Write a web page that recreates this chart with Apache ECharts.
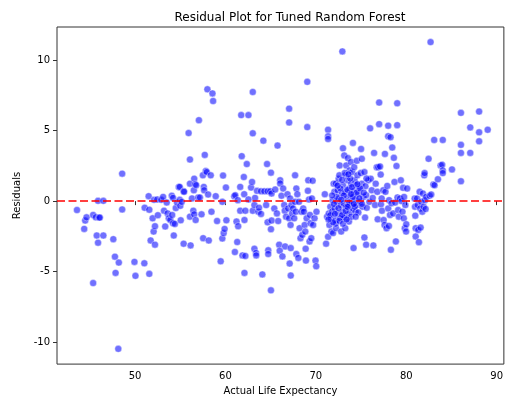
<!DOCTYPE html>
<html><head><meta charset="utf-8">
<script src="https://cdn.jsdelivr.net/npm/echarts@6/dist/echarts.min.js"></script>
<style>html,body{margin:0;padding:0;background:#fff}#c{width:506px;height:401px}</style>
</head><body><div id="c"></div>
<script>
const band40s=[[43.57,-0.63],[44.37,-1.97],[44.48,-1.38],[44.63,-1.15],[45.36,-0.98],[45.36,-5.81],[45.65,-1.15],[45.76,-2.44],[45.9,-2.95],[45.9,0.02],[46.0,-1.17],[46.1,-1.17],[46.49,0.02],[46.49,-2.44],[47.59,-2.7],[47.77,-3.94],[47.84,-5.09],[48.2,-4.36],[48.14,-10.48],[48.57,1.95],[48.57,-0.59],[49.93,-4.31]];
const band50s=[[50.04,-5.3],[51.02,-4.41],[51.06,-0.47],[51.5,0.35],[51.57,-0.61],[51.57,-5.16],[51.72,-2.79],[51.94,-1.22],[52.05,-2.16],[52.1,0.09],[52.2,-1.78],[52.2,-3.09],[52.45,0.12],[52.52,-1.0],[52.9,0.09],[53.1,0.3],[53.2,-0.68],[53.33,-1.8],[53.5,-0.1],[53.6,-0.87],[53.73,-1.22],[53.9,-1.34],[54.06,0.38],[54.1,-0.98],[54.2,-1.57],[54.2,0.23],[54.28,-2.44],[54.4,-1.62],[54.5,-0.49],[54.64,-0.1],[54.83,1.01],[54.94,1.01],[54.94,0.09],[55.0,-0.33],[55.05,-1.36],[55.16,-0.05],[55.37,0.7],[55.42,0.66],[55.37,-3.02],[55.92,4.83],[56.07,2.95],[56.07,1.24],[56.07,-1.1],[56.14,-3.14],[56.29,0.19],[56.44,-0.68],[56.5,0.77],[56.54,1.59],[56.54,-0.94],[56.65,1.2],[56.7,-1.34],[56.76,1.13],[56.98,0.26],[57.06,5.74],[57.17,0.26],[57.35,-0.94],[57.5,1.83],[57.53,-2.63],[57.6,1.01],[57.64,0.77],[57.71,3.28],[57.82,2.13],[57.93,2.06],[58.0,7.93],[58.08,0.47],[58.15,-2.79],[58.37,1.83],[58.45,-0.75],[58.56,7.64],[58.63,7.1],[58.92,0.35],[59.07,-1.41],[59.47,-4.27],[59.65,-0.05],[59.65,-2.65],[59.73,1.81],[59.8,-2.27],[59.9,-1.97]];
const band60s=[[60.05,0.96],[60.1,-1.36],[60.97,0.35],[61.04,-3.61],[61.08,0.42],[61.22,-1.45],[61.3,-2.9],[61.37,0.07],[61.4,-1.78],[61.63,1.01],[61.63,-0.68],[61.74,6.1],[61.8,3.19],[61.88,-3.85],[62.03,1.71],[62.07,0.49],[62.1,-1.34],[62.1,-5.09],[62.2,-0.68],[62.2,-3.89],[62.36,2.63],[62.54,6.1],[62.54,0.12],[62.83,0.96],[62.94,1.36],[63.02,7.74],[63.02,4.81],[63.02,-0.68],[63.2,-0.28],[63.2,-3.38],[63.27,0.23],[63.38,-3.68],[63.4,-3.85],[63.49,0.73],[63.64,-0.75],[63.71,-0.47],[63.93,0.7],[63.93,-0.91],[64.08,-5.2],[64.19,4.29],[64.3,0.7],[64.5,-0.28],[64.6,2.63],[64.66,-1.5],[64.66,0.7],[64.73,-3.49],[64.73,-3.75],[64.95,0.7],[65.03,2.02],[65.03,-1.99],[65.1,-1.38],[65.1,0.54],[65.03,-6.33],[65.4,-0.52],[65.5,0.82],[65.69,-0.87],[65.76,3.94],[65.83,-1.41],[65.94,-3.09],[66.0,-3.52],[66.05,1.48],[66.05,1.25],[66.2,0.38],[66.3,-3.92],[66.38,0.89],[66.5,-0.28],[66.56,-0.68],[66.6,-3.21],[66.7,-1.1],[66.86,0.49],[66.93,-0.52],[67.04,6.56],[67.04,5.58],[67.04,-1.22],[67.1,-4.43],[67.15,0.19],[67.2,-1.69],[67.22,-3.33],[67.22,-5.28],[67.3,-0.28],[67.37,-0.87],[67.48,-0.52],[67.6,-1.22],[67.7,1.83],[67.7,-0.05],[67.77,-0.75],[67.84,-3.75],[67.84,0.89],[67.95,0.49],[68.06,-4.03],[68.13,-0.05],[68.2,-1.92],[68.3,-2.63],[68.4,-0.75],[68.5,-2.39],[68.6,-0.52],[68.68,-0.75],[68.76,-1.69],[68.83,-2.16],[68.87,-3.38],[68.9,-4.22],[68.98,-1.22],[69.05,8.46],[69.05,5.25],[69.12,0.73],[69.16,1.48],[69.24,0.12],[69.3,-2.86],[69.34,-0.98],[69.42,-1.57],[69.49,-2.63],[69.56,0.19],[69.64,1.45],[69.7,-1.69],[69.85,-1.22],[69.96,-4.22]];
const band70s=[[70.04,-4.62],[70.07,-0.75],[70.99,0.49],[71.13,-3.02],[71.24,-1.1],[71.35,5.06],[71.35,4.6],[71.35,4.41],[71.35,-2.53],[71.43,-0.87],[71.5,-1.69],[71.6,-0.4],[71.68,-1.27],[71.72,-2.16],[71.79,-0.75],[71.86,0.07],[71.9,-2.27],[71.97,1.24],[72.05,0.66],[72.08,-0.52],[72.16,-1.34],[72.2,1.24],[72.23,-1.92],[72.34,-0.05],[72.41,0.77],[72.41,-0.87],[72.52,1.59],[72.56,0.19],[72.6,1.83],[72.63,2.53],[72.7,-1.22],[72.78,-0.28],[72.8,-2.16],[72.89,0.54],[72.93,10.62],[72.96,-0.75],[73.0,3.75],[73.0,1.13],[73.07,-0.16],[73.07,-1.22],[73.14,3.24],[73.18,0.66],[73.25,-1.92],[73.29,1.83],[73.33,-0.4],[73.36,2.53],[73.44,0.19],[73.44,-0.98],[73.51,1.48],[73.55,3.05],[73.62,-0.28],[73.66,-1.45],[73.7,0.89],[73.73,2.18],[73.8,-0.75],[73.8,0.42],[73.88,2.77],[73.91,1.24],[73.99,-0.05],[74.02,2.06],[74.1,4.13],[74.1,-0.52],[74.17,-3.33],[74.17,0.7],[74.24,2.41],[74.28,1.48],[74.35,0.19],[74.39,-0.75],[74.46,1.13],[74.53,2.86],[74.53,-0.28],[74.6,1.83],[74.72,0.54],[74.8,0.89],[74.9,-0.05],[74.97,1.99],[75.0,3.7],[75.08,3.0],[75.08,1.24],[75.15,-0.4],[75.26,0.3],[75.37,2.06],[75.37,-2.58],[75.44,-1.17],[75.48,1.06],[75.56,-3.09],[75.56,0.42],[75.63,-0.47],[75.8,1.48],[75.92,-0.05],[76.0,5.16],[76.07,1.59],[76.18,0.77],[76.29,0.23],[76.36,-3.14],[76.44,3.42],[76.55,-0.28],[76.62,1.24],[76.73,2.41],[76.8,0.66],[76.84,-1.29],[76.9,2.41],[77.0,6.99],[77.0,5.46],[77.1,2.46],[77.17,1.88],[77.2,-0.23],[77.28,0.19],[77.31,-0.68],[77.46,0.77],[77.5,-1.34],[77.6,-1.69],[77.64,3.35],[77.7,0.66],[77.82,-1.92],[77.9,1.08],[78.0,5.35],[78.0,4.6],[78.0,-0.52],[78.08,-1.76],[78.1,0.07],[78.2,-0.98],[78.26,4.53],[78.3,-3.45],[78.37,-0.16],[78.45,3.8],[78.55,-0.87],[78.63,3.07],[78.7,1.36],[78.77,-0.1],[78.85,-2.86],[78.92,2.49],[79.0,6.94],[79.0,5.39],[79.03,0.26],[79.1,-0.63],[79.18,-1.1],[79.3,0.19],[79.4,1.48],[79.47,0.0],[79.58,-0.75],[79.65,0.94],[79.73,-1.22],[79.76,0.3],[79.84,-1.92],[79.9,-0.28],[79.98,-2.16]];
const cluster70s=[[72.0,-0.2],[72.3,0.3],[72.5,-0.5],[72.7,0.9],[72.9,-1.0],[73.1,0.4],[73.3,-0.7],[73.5,0.8],[73.7,-0.1],[73.9,-1.1],[74.1,0.3],[74.3,-0.4],[74.5,0.6],[74.7,-0.8],[74.9,0.9],[75.1,-0.2],[72.2,-1.6],[72.6,-1.4],[73.0,-1.6],[73.4,-1.3],[73.8,1.6],[74.0,1.0],[74.4,-1.1],[71.8,0.4],[71.6,-1.0],[72.4,1.1],[72.9,1.5],[73.2,2.0],[73.6,1.9],[74.6,1.2],[75.3,0.6],[75.6,1.6],[74.2,-0.2],[73.5,-0.4],[72.8,0.1],[71.9,-1.5],[71.4,-1.3],[72.1,-0.9],[73.9,0.5],[74.8,0.2]];
const band80s=[[80.0,-1.64],[80.1,0.89],[80.93,0.19],[80.97,-0.4],[81.0,-1.03],[81.04,-1.92],[81.04,-2.51],[81.19,0.19],[81.26,-0.28],[81.33,-2.04],[81.4,-2.91],[81.48,0.66],[81.55,-0.52],[81.59,-1.88],[81.66,-0.05],[81.77,-0.75],[81.84,0.54],[81.92,-0.4],[81.99,1.83],[82.03,1.99],[82.07,0.07],[82.14,-0.56],[82.2,0.3],[82.47,3.0],[82.58,0.38],[82.69,11.28],[82.76,0.47],[83.0,1.17],[83.09,4.34],[83.13,1.13],[83.5,1.55],[83.8,2.53],[83.97,2.58],[84.04,4.34],[84.04,2.18],[84.04,1.99],[85.06,2.25],[86.05,6.26],[86.05,3.99],[86.05,3.42],[86.05,1.41],[87.08,5.23],[87.08,3.42],[88.06,6.35],[88.06,4.88],[88.06,4.24],[89.01,5.06]];

const points=[].concat(band40s,band50s,band60s,band70s,cluster70s,band80s);
const FONT='DejaVu Sans';
const chart=echarts.init(document.getElementById('c'),null,{renderer:'canvas'});
chart.setOption({
  animation:false,
  backgroundColor:'#fff',
  title:{text:'Residual Plot for Tuned Random Forest',left:285,top:7,textAlign:'center',
    textStyle:{fontFamily:FONT,fontSize:12,fontWeight:'normal',color:'#000'}},
  grid:{left:57,top:27,right:-3,bottom:34,show:true,borderColor:'#333',borderWidth:1,backgroundColor:'transparent'},
  xAxis:{type:'value',min:41.36,max:90.8,splitNumber:5,
    name:'Actual Life Expectancy',nameLocation:'middle',nameGap:21,
    nameTextStyle:{fontFamily:FONT,fontSize:10,color:'#000'},
    axisLine:{show:false},splitLine:{show:false},
    axisTick:{show:true,length:4,lineStyle:{color:'#333'}},
    axisLabel:{fontFamily:FONT,fontSize:10,color:'#000',margin:7,showMinLabel:false,showMaxLabel:false}},
  yAxis:{type:'value',min:-11.56,max:12.35,splitNumber:5,
    name:'Residuals',nameLocation:'middle',nameGap:34,
    nameTextStyle:{fontFamily:FONT,fontSize:10,color:'#000'},
    axisLine:{show:false},splitLine:{show:false},
    axisTick:{show:true,length:4,lineStyle:{color:'#333'}},
    axisLabel:{fontFamily:FONT,fontSize:10,color:'#000',margin:7,showMinLabel:false,showMaxLabel:false}},
  series:[{type:'scatter',data:points,symbolSize:7,
    itemStyle:{color:'rgba(0,0,255,0.7)',borderColor:'#fff',borderWidth:0.5},
    markLine:{silent:true,symbol:'none',label:{show:false},
      lineStyle:{color:'#ff0000',type:[8,3.5],width:1.5},
      data:[{yAxis:0}]}}]
});
</script></body></html>
